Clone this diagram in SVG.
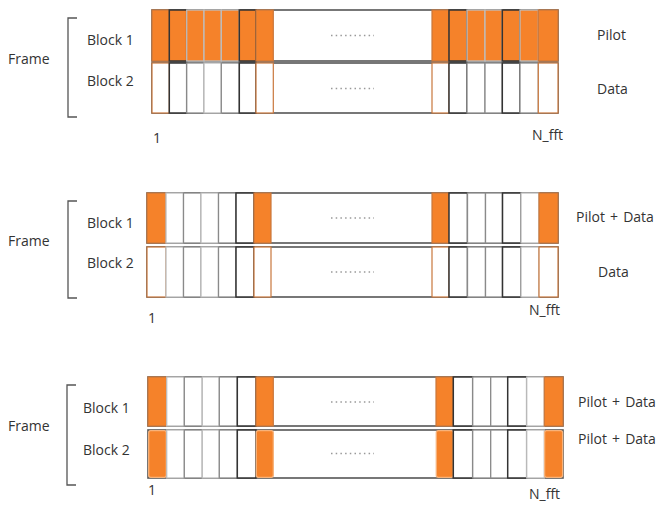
<svg xmlns="http://www.w3.org/2000/svg" width="659" height="505" viewBox="0 0 659 505">
<style>
text{font-family:"Open Sans","Noto Sans","Liberation Sans",sans-serif;font-size:14px;fill:#333}
.pd{word-spacing:1.5px}
.frame{fill:#fff;stroke:#555;stroke-width:1.6}
.o{fill:#F5822A}
.w{fill:#fff}
.sd{stroke:#333;stroke-width:1.5}
.sg{stroke:#8a8a8a;stroke-width:1.3}
.sl{stroke:#bdbdbd;stroke-width:1.3}
.so{stroke:#c9773c;stroke-width:1.2}
.sp{stroke:#f7b27a;stroke-width:1.3}
.br{fill:none;stroke:#555;stroke-width:1.3}
.dots{stroke:#999;stroke-width:1.6;stroke-dasharray:1.5 3.2}
</style>
<rect width="659" height="505" fill="#fff"/>

<!-- Panel 1 -->
<g id="panel1">
  <g id="p1-frame-label">
    <text x="8" y="64">Frame</text>
    <path class="br" d="M77,18 H68 V117 H77"/>
  </g>
  <g id="p1-block1">
    <rect class="frame" x="152" y="10" width="406" height="51"/>
    <rect class="o so" x="152" y="10" width="17.3" height="51"/>
    <rect class="o sd" x="169.3" y="10" width="17.4" height="51"/>
    <rect class="o sl" x="186.7" y="10" width="17.3" height="51"/>
    <rect class="o sl" x="204" y="10" width="17.3" height="51"/>
    <rect class="o sl" x="221.3" y="10" width="18" height="51"/>
    <rect class="o sd" x="239.3" y="10" width="16.7" height="51"/>
    <rect class="o so" x="256" y="10" width="17.3" height="51"/>
    <rect class="o so" x="432" y="10" width="17" height="51"/>
    <rect class="o sd" x="449" y="10" width="18" height="51"/>
    <rect class="o sl" x="467" y="10" width="18" height="51"/>
    <rect class="o sl" x="485" y="10" width="17.3" height="51"/>
    <rect class="o sd" x="502.3" y="10" width="17.7" height="51"/>
    <rect class="o sl" x="520" y="10" width="18.3" height="51"/>
    <rect class="o so" x="538.3" y="10" width="19.7" height="51"/>
    <line class="dots" x1="331" y1="35.5" x2="374" y2="35.5"/>
    <text x="87" y="45">Block 1</text>
    <text x="597" y="40">Pilot</text>
  </g>
  <g id="p1-block2">
    <rect class="frame" x="152" y="63" width="406" height="50"/>
    <rect class="w so" x="152" y="63" width="17.3" height="50"/>
    <rect class="w sd" x="169.3" y="63" width="17.4" height="50"/>
    <rect class="w sg" x="186.7" y="63" width="17.3" height="50"/>
    <rect class="w sl" x="204" y="63" width="17.3" height="50"/>
    <rect class="w sg" x="221.3" y="63" width="18" height="50"/>
    <rect class="w sd" x="239.3" y="63" width="16.7" height="50"/>
    <rect class="w so" x="256" y="63" width="17.3" height="50"/>
    <rect class="w so" x="432" y="63" width="17" height="50"/>
    <rect class="w sd" x="449" y="63" width="18" height="50"/>
    <rect class="w sg" x="467" y="63" width="18" height="50"/>
    <rect class="w sg" x="485" y="63" width="17.3" height="50"/>
    <rect class="w sd" x="502.3" y="63" width="17.7" height="50"/>
    <rect class="w sg" x="520" y="63" width="18.3" height="50"/>
    <rect class="w so" x="538.3" y="63" width="19.7" height="50"/>
    <line class="dots" x1="331" y1="88.5" x2="374" y2="88.5"/>
    <text x="87" y="86">Block 2</text>
    <text x="597" y="94">Data</text>
  </g>
  <text x="153" y="143">1</text>
  <text x="532" y="140">N_fft</text>
</g>

<!-- Panel 2 -->
<g id="panel2">
  <g id="p2-frame-label">
    <text x="8" y="246">Frame</text>
    <path class="br" d="M77,201 H68 V298 H77"/>
  </g>
  <g id="p2-block1">
    <rect class="frame" x="147" y="193" width="411" height="50"/>
    <rect class="o so" x="147" y="193" width="19" height="50"/>
    <rect class="w sl" x="166" y="193" width="17.5" height="50"/>
    <rect class="w sg" x="183.5" y="193" width="17.5" height="50"/>
    <rect class="w sl" x="201" y="193" width="17.5" height="50"/>
    <rect class="w sg" x="218.5" y="193" width="17.5" height="50"/>
    <rect class="w sd" x="236" y="193" width="18" height="50"/>
    <rect class="o so" x="254" y="193" width="17" height="50"/>
    <rect class="o so" x="432" y="193" width="17" height="50"/>
    <rect class="w sd" x="449" y="193" width="18.5" height="50"/>
    <rect class="w sg" x="467.5" y="193" width="18" height="50"/>
    <rect class="w sg" x="485.5" y="193" width="17" height="50"/>
    <rect class="w sd" x="502.5" y="193" width="18.5" height="50"/>
    <rect class="w sl" x="521" y="193" width="18" height="50"/>
    <rect class="o so" x="539" y="193" width="19" height="50"/>
    <line class="dots" x1="331" y1="218" x2="374" y2="218"/>
    <text x="87" y="228">Block 1</text>
    <text class="pd" x="576" y="222">Pilot + Data</text>
  </g>
  <g id="p2-block2">
    <rect class="frame" x="147" y="247" width="411" height="50"/>
    <rect class="w so" x="147" y="247" width="19" height="50"/>
    <rect class="w sl" x="166" y="247" width="17.5" height="50"/>
    <rect class="w sg" x="183.5" y="247" width="17.5" height="50"/>
    <rect class="w sl" x="201" y="247" width="17.5" height="50"/>
    <rect class="w sg" x="218.5" y="247" width="17.5" height="50"/>
    <rect class="w sd" x="236" y="247" width="18" height="50"/>
    <rect class="w so" x="254" y="247" width="17" height="50"/>
    <rect class="w so" x="432" y="247" width="17" height="50"/>
    <rect class="w sd" x="449" y="247" width="18.5" height="50"/>
    <rect class="w sg" x="467.5" y="247" width="18" height="50"/>
    <rect class="w sg" x="485.5" y="247" width="17" height="50"/>
    <rect class="w sd" x="502.5" y="247" width="18.5" height="50"/>
    <rect class="w sl" x="521" y="247" width="18" height="50"/>
    <rect class="w so" x="539" y="247" width="19" height="50"/>
    <line class="dots" x1="331" y1="272" x2="374" y2="272"/>
    <text x="87" y="268">Block 2</text>
    <text x="598" y="277">Data</text>
  </g>
  <text x="148" y="323">1</text>
  <text x="529" y="315">N_fft</text>
</g>

<!-- Panel 3 -->
<g id="panel3">
  <g id="p3-frame-label">
    <text x="8" y="431">Frame</text>
    <path class="br" d="M76,385 H67 V485 H76"/>
  </g>
  <g id="p3-block1">
    <rect class="frame" x="148" y="377" width="415" height="49"/>
    <rect class="o so" x="148" y="377" width="18.7" height="49"/>
    <rect class="w sl" x="166.7" y="377" width="17.6" height="49"/>
    <rect class="w sg" x="184.3" y="377" width="18" height="49"/>
    <rect class="w sl" x="202.3" y="377" width="17" height="49"/>
    <rect class="w sg" x="219.3" y="377" width="18" height="49"/>
    <rect class="w sd" x="237.3" y="377" width="18.7" height="49"/>
    <rect class="o so" x="256" y="377" width="17.3" height="49"/>
    <rect class="o so" x="436" y="377" width="17.3" height="49"/>
    <rect class="w sd" x="453.3" y="377" width="19.4" height="49"/>
    <rect class="w sg" x="472.7" y="377" width="18" height="49"/>
    <rect class="w sg" x="490.7" y="377" width="17" height="49"/>
    <rect class="w sd" x="507.7" y="377" width="19" height="49"/>
    <rect class="w sl" x="526.7" y="377" width="17.6" height="49"/>
    <rect class="o so" x="544.3" y="377" width="18.7" height="49"/>
    <line class="dots" x1="331" y1="402" x2="374" y2="402"/>
    <text x="83" y="413">Block 1</text>
    <text class="pd" x="578" y="407">Pilot + Data</text>
  </g>
  <g id="p3-block2">
    <rect class="frame" x="148" y="430" width="415" height="48"/>
    <rect class="o sp" x="148.7" y="430.7" width="17.6" height="46.6" rx="2"/>
    <rect class="w sl" x="166.7" y="430" width="17.6" height="48"/>
    <rect class="w sg" x="184.3" y="430" width="18" height="48"/>
    <rect class="w sl" x="202.3" y="430" width="17" height="48"/>
    <rect class="w sg" x="219.3" y="430" width="18" height="48"/>
    <rect class="w sd" x="237.3" y="430" width="18.7" height="48"/>
    <rect class="o sp" x="256.3" y="430.7" width="17" height="46.6" rx="2"/>
    <rect class="o sp" x="436.3" y="430.7" width="17" height="46.6" rx="2"/>
    <rect class="w sd" x="453.3" y="430" width="19.4" height="48"/>
    <rect class="w sg" x="472.7" y="430" width="18" height="48"/>
    <rect class="w sg" x="490.7" y="430" width="17" height="48"/>
    <rect class="w sd" x="507.7" y="430" width="19" height="48"/>
    <rect class="w sl" x="526.7" y="430" width="17.6" height="48"/>
    <rect class="o sp" x="544.6" y="430.7" width="18" height="46.6" rx="2"/>
    <line class="dots" x1="331" y1="453.5" x2="374" y2="453.5"/>
    <text x="83" y="455">Block 2</text>
    <text class="pd" x="578" y="444">Pilot + Data</text>
  </g>
  <text x="148" y="495">1</text>
  <text x="529" y="499">N_fft</text>
</g>
</svg>
